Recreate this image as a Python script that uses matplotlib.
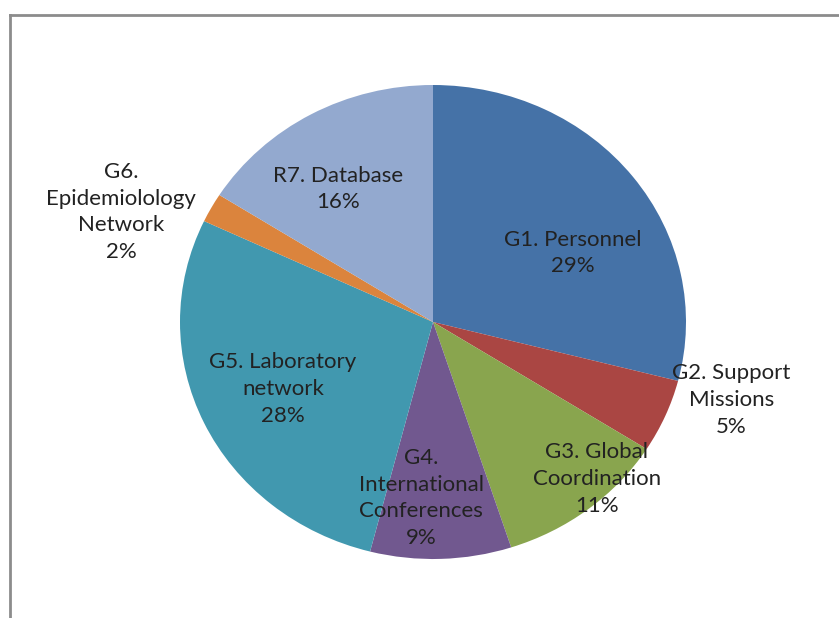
import matplotlib.pyplot as plt
from matplotlib.lines import Line2D

# budget share per component
names = ["G1. Personnel", "G2. Support\nMissions", "G3. Global\nCoordination",
         "G4.\nInternational\nConferences", "G5. Laboratory\nnetwork",
         "G6.\nEpidemiolology\nNetwork", "R7. Database"]
shares = [29, 5, 11, 9, 28, 2, 16]
colors = ["#4572A7", "#AA4643", "#89A54E", "#71588F", "#4198AF", "#DB843D", "#93A9CF"]

# label centres (pie units, x/y)
label_pos = [(0.553, 0.291), (1.180, -0.329), (0.648, -0.662), (-0.047, -0.743),
             (-0.593, -0.283), (-1.233, 0.464), (-0.375, 0.561)]

W, H = 839, 618
fig = plt.figure(figsize=(W / 100, H / 100), dpi=100)
ax = fig.add_axes([0, 0, 1, 1])

ax.pie(shares, colors=colors, startangle=90, counterclock=False,
       radius=1, center=(0, 0), wedgeprops=dict(linewidth=0))
ax.set_aspect("auto")

# pie is a bit wider than tall
cx, cy, rx, ry = 433, 322, 253, 237
ax.set_xlim(-cx / rx, (W - cx) / rx)
ax.set_ylim(-(H - cy) / ry, cy / ry)
ax.axis("off")

for name, s, (x, y) in zip(names, shares, label_pos):
    ax.text(x, y, f"{name}\n{s}%", ha="center", va="center", fontsize=16,
            family="Lato", color="#222222", linespacing=1.42)

# chart area frame (top and left edges)
fig.add_artist(Line2D([10 / W, 10 / W], [0, 1 - 15 / H], transform=fig.transFigure,
                      color="#8c8c8c", lw=2))
fig.add_artist(Line2D([10 / W, 1], [1 - 15 / H, 1 - 15 / H], transform=fig.transFigure,
                      color="#8c8c8c", lw=2))

fig.savefig("out.png", dpi=100)
